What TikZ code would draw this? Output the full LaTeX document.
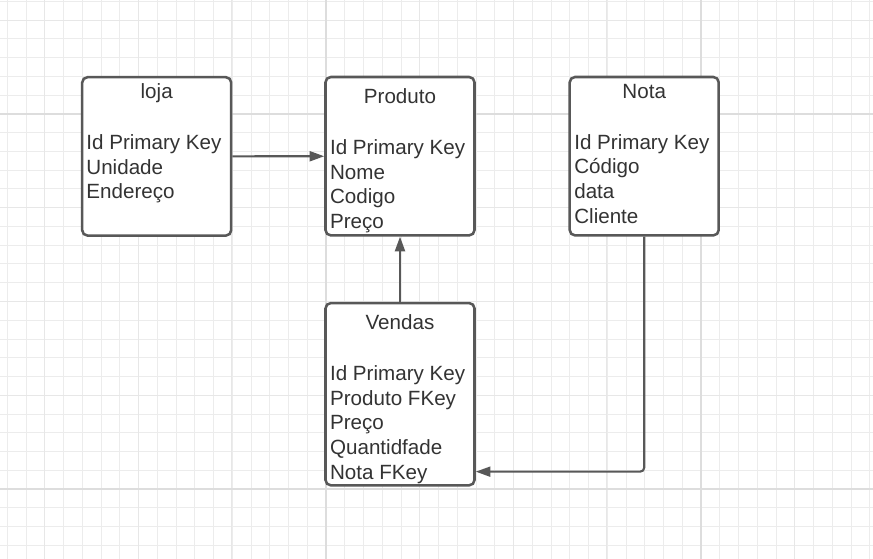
\documentclass[tikz,border=0pt]{standalone}
\usepackage{fontspec}
\setmainfont{Liberation Sans}
\usetikzlibrary{arrows.meta,positioning}
\definecolor{gridmin}{RGB}{236,236,236}
\definecolor{gridmid}{RGB}{231,231,231}
\definecolor{gridmaj}{RGB}{221,221,221}
\definecolor{edge}{RGB}{88,88,88}
\definecolor{ink}{RGB}{51,51,51}
\begin{document}
\begin{tikzpicture}[x=0.75pt,y=-0.75pt,
  tbl/.style={draw=edge, line width=1.9pt, rounded corners=4pt, fill=white,
    minimum width=111.75pt, minimum height=118.8pt, inner sep=0pt},
  ttl/.style={anchor=base, inner sep=0pt, text=ink, font=\fontsize{15.45}{18.5}\selectfont},
  attr/.style={anchor=base west, inner sep=0pt, text=ink, font=\fontsize{15.45}{18.5}\selectfont},
  link/.style={draw=edge, line width=1.6pt, -{Triangle[length=11pt,width=7.5pt]}}]
\useasboundingbox (0,0) rectangle (873,559);
\fill[white] (0,0) rectangle (873,559);
% grid
\foreach \i in {0,...,46} \draw[gridmin, line width=0.75pt] ({7.3+18.75*\i},0) -- ({7.3+18.75*\i},559);
\foreach \i in {0,...,29} \draw[gridmin, line width=0.75pt] (0,{1.5+18.75*\i}) -- (873,{1.5+18.75*\i});
\foreach \i in {0,...,8} \draw[gridmid, line width=0.75pt] ({44.3+93.75*\i},0) -- ({44.3+93.75*\i},559);
\foreach \i in {0,...,5} \draw[gridmid, line width=0.75pt] (0,{20.3+93.75*\i}) -- (873,{20.3+93.75*\i});
\foreach \x in {325.6,700.6} \draw[gridmaj, line width=1.5pt] (\x,0) -- (\x,559);
\foreach \y in {114,489} \draw[gridmaj, line width=1.5pt] (0,\y) -- (873,\y);

% tables
\node[tbl] (loja) at (156.7,156.4) {};
\node[tbl] (Produto) at (400,156.2) {};
\node[tbl] (Nota) at (644.2,156.2) {};
\node[tbl, minimum height=136.7pt] (Vendas) at (400,394.2) {};

\node[ttl] (lojaT) at ([yshift=-16.8pt]loja.north) {loja};
\node[ttl] (ProdutoT) at ([yshift=-20.8pt]Produto.north) {Produto};
\node[ttl] (NotaT) at ([yshift=-16.8pt]Nota.north) {Nota};
\node[ttl] (VendasT) at ([yshift=-20.8pt]Vendas.north) {Vendas};

\foreach \t [count=\i] in {Id Primary Key, Unidade, Endereço}
  \node[attr] (loja-\i) at ([xshift=3.9pt, yshift={-55.2pt-18.5pt*(\i-1)}]loja.north west) {\t};
\foreach \t [count=\i] in {Id Primary Key, Nome, Codigo, Preço}
  \node[attr] (Produto-\i) at ([xshift=4.2pt, yshift={-59.1pt-18.5pt*(\i-1)}]Produto.north west) {\t};
\foreach \t [count=\i] in {Id Primary Key, Código, data, Cliente}
  \node[attr] (Nota-\i) at ([xshift=4.2pt, yshift={-55.2pt-18.5pt*(\i-1)}]Nota.north west) {\t};
\foreach \t [count=\i] in {Id Primary Key, Produto FKey, Preço, Quantidfade, Nota FKey}
  \node[attr] (Vendas-\i) at ([xshift=4.2pt, yshift={-59.1pt-18.5pt*(\i-1)}]Vendas.north west) {\t};

% links
\draw[link] (loja) -- (Produto);
\draw[link] (Vendas) -- (Produto);
\draw[link, rounded corners=3pt] (Nota) |- ([yshift=-58.1pt]Vendas.east);
\end{tikzpicture}
\end{document}
